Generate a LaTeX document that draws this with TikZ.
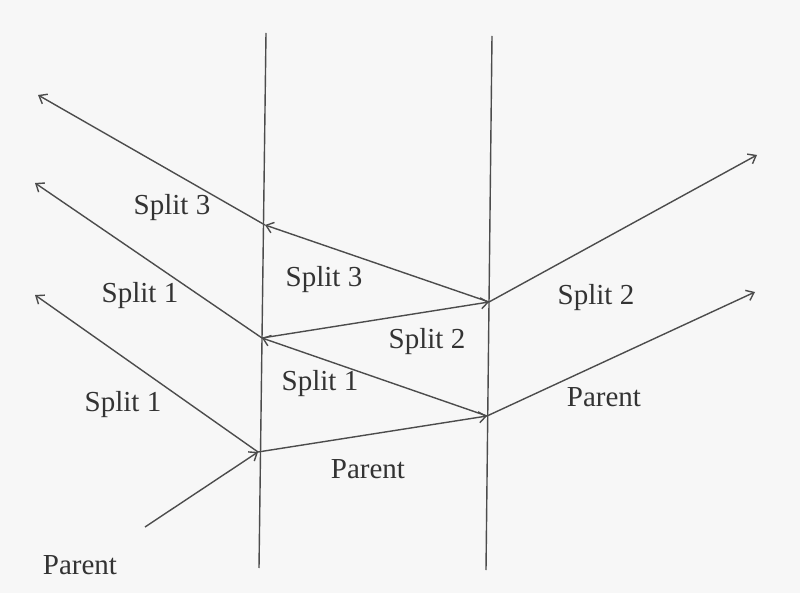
\documentclass[tikz,border=0pt]{standalone}
\usepackage{fontspec}
\setmainfont{Liberation Serif}
\usetikzlibrary{arrows.meta}

\begin{document}
\begin{tikzpicture}[>={Straight Barb[length=7pt,width=11pt]}, x=1pt, y=-1pt,
    line width=1.4pt, color=black!70,
    lbl/.style={text=black!80, inner sep=0pt, font=\fontsize{29}{31}\selectfont}]
        \fill[black!3] (0,0) rectangle (800,593);
        \useasboundingbox (0,0) rectangle (800,593);

        % the two walls
        \coordinate (w1t) at (266,33);
        \coordinate (w1b) at (259,568);
        \coordinate (w2t) at (492,36);
        \coordinate (w2b) at (486,570);
        \draw (w1t) -- (w1b);
        \draw (w2t) -- (w2b);

        % points on the walls
        \coordinate (a) at (258,452);
        \coordinate (b) at (487,416);
        \coordinate (c) at (262,338);
        \coordinate (d) at (489,302);
        \coordinate (e) at (265,225);

        % free ends
        \coordinate (p0) at (145,527);
        \coordinate (sa) at (35,295);
        \coordinate (sc) at (35,183);
        \coordinate (se) at (38,95);
        \coordinate (pb) at (755,292);
        \coordinate (sd) at (757,155);

        \draw[->] (p0) -- (a);
        \draw[->] (a) -- (b);
        \draw[->] (b) -- (c);
        \draw[->] (c) -- (d);
        \draw[->] (d) -- (e);
        \draw[->] (a) -- (sa);
        \draw[->] (c) -- (sc);
        \draw[->] (e) -- (se);
        \draw[->] (b) -- (pb);
        \draw[->] (d) -- (sd);

        \node[lbl] (l0) at (80,565) {Parent};
        \node[lbl] (l1) at (123,405) {Split 1};
        \node[lbl] (l2) at (140,296) {Split 1};
        \node[lbl] (l3) at (172,208) {Split 3};
        \node[lbl] (l4) at (324,280) {Split 3};
        \node[lbl] (l5) at (320,384) {Split 1};
        \node[lbl] (l6) at (427,342) {Split 2};
        \node[lbl] (l7) at (368,469) {Parent};
        \node[lbl] (l8) at (604,397) {Parent};
        \node[lbl] (l9) at (596,298) {Split 2};
    \end{tikzpicture}
\end{document}
